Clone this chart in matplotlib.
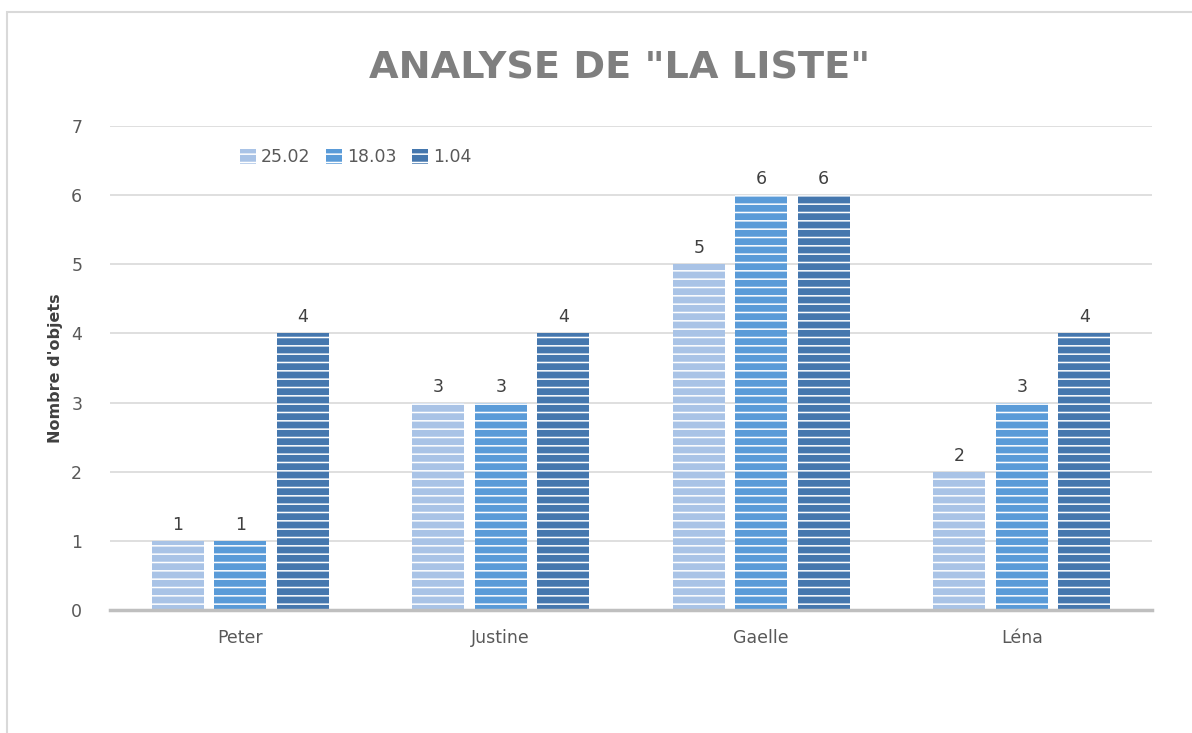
import numpy as np
import matplotlib.pyplot as plt
from matplotlib.patches import Rectangle

plt.rcParams['hatch.linewidth'] = 1.1

names = ["Peter", "Justine", "Gaelle", "Léna"]
dates = ["25.02", "18.03", "1.04"]
v_2502 = [1, 3, 5, 2]
v_1803 = [1, 3, 6, 3]
v_0104 = [4, 4, 6, 4]
series = [v_2502, v_1803, v_0104]
colors = ["#a9c3e6", "#5a9bd8", "#4577ae"]

fig = plt.figure(figsize=(11.92, 7.33), dpi=100)
ax = fig.add_axes([0.0923, 0.1678, 0.8741, 0.6603])

# outer chart border
fig.patches.append(Rectangle((7/1192, -0.1), 1.2, 1 - 12/733 + 0.1, transform=fig.transFigure,
                             fill=False, edgecolor="#d9d9d9", linewidth=1.5))

x = np.arange(len(names))
w = 0.2
offs = [-0.24, 0.0, 0.24]
for vals, lab, col, off in zip(series, dates, colors, offs):
    bars = ax.bar(x + off, vals, w, color=col, edgecolor="white", linewidth=0,
                  hatch="--", label=lab, zorder=3)
    ax.bar_label(bars, padding=5, fontsize=12.5, color="#404040")

ax.set_xlim(-0.5, 3.5)
ax.set_ylim(0, 7)
ax.set_yticks(range(8))
ax.set_xticks(x)
ax.set_xticklabels(names)
ax.tick_params(length=0, labelsize=12.5, labelcolor="#595959")
ax.tick_params(axis="y", pad=20)
ax.tick_params(axis="x", pad=14)
ax.grid(axis="y", color="#d9d9d9", linewidth=1.2, zorder=0)
for s in ["top", "right", "left"]:
    ax.spines[s].set_visible(False)
ax.spines["bottom"].set_color("#bfbfbf")
ax.spines["bottom"].set_linewidth(2.5)
ax.spines["bottom"].set_zorder(4)

ax.set_ylabel("Nombre d'objets", fontsize=11.5, fontweight="bold", color="#404040", labelpad=6)

fig.text(0.52, 0.907, 'ANALYSE DE "LA LISTE"', ha="center", va="center",
         fontsize=27.5, fontweight="bold", color="#7f7f7f")

ax.legend(loc="center left", bbox_to_anchor=(0.11, 0.935), ncol=3, frameon=False,
          fontsize=12.5, handlelength=0.9, handleheight=0.9, handletextpad=0.3,
          columnspacing=0.9, labelcolor="#595959")

fig.savefig("out.png", dpi=100)
